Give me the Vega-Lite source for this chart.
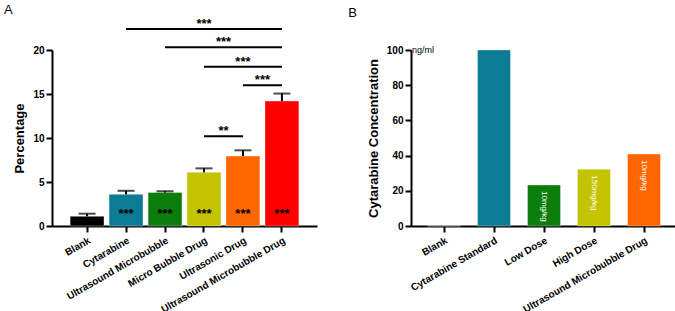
{
  "$schema": "https://vega.github.io/schema/vega-lite/v6.json",
  "padding": {"left": 3, "top": 3, "right": 0, "bottom": 0},
  "background": "white",
  "bounds": "flush",
  "spacing": 94,
  "resolve": {"scale": {"color": "independent", "y": "independent", "x": "independent"}},
  "config": {
    "font": "Liberation Sans",
    "view": {"stroke": null},
    "text": {"font": "Liberation Sans"},
    "axis": {"grid": false, "labelOverlap": false, "domainColor": "black", "domainWidth": 2, "tickColor": "black", "tickWidth": 2, "tickSize": 6, "labelFont": "Liberation Sans", "labelFontWeight": "bold", "labelFontSize": 10, "labelColor": "black", "titleFont": "Liberation Sans", "titleFontWeight": "bold", "titleFontSize": 13, "titleColor": "black"},
    "title": {"font": "Liberation Sans", "fontWeight": "normal", "fontSize": 13, "anchor": "start", "frame": "bounds", "color": "black"}
  },
  "datasets": {
    "percent": [
      {"group": "Blank", "value": 1.1, "err": 1.4, "sig": ""},
      {"group": "Cytarabine", "value": 3.6, "err": 4.0, "sig": "***"},
      {"group": "Ultrasound Microbubble", "value": 3.8, "err": 3.95, "sig": "***"},
      {"group": "Micro Bubble Drug", "value": 6.1, "err": 6.55, "sig": "***"},
      {"group": "Ultrasonic Drug", "value": 7.95, "err": 8.6, "sig": "***"},
      {"group": "Ultrasound Microbubble Drug", "value": 14.2, "err": 15.05, "sig": "***"}
    ],
    "lines": [
      {"from": "Cytarabine", "to": "Ultrasound Microbubble Drug", "y": 22.4},
      {"from": "Ultrasound Microbubble", "to": "Ultrasound Microbubble Drug", "y": 20.3},
      {"from": "Micro Bubble Drug", "to": "Ultrasound Microbubble Drug", "y": 18.1},
      {"from": "Ultrasonic Drug", "to": "Ultrasound Microbubble Drug", "y": 16.0},
      {"from": "Micro Bubble Drug", "to": "Ultrasonic Drug", "y": 10.2}
    ],
    "labelsCenter": [
      {"mid": "Micro Bubble Drug", "y": 22.4, "label": "***"},
      {"mid": "Ultrasonic Drug", "y": 18.1, "label": "***"}
    ],
    "labelsEdge": [
      {"mid": "Micro Bubble Drug", "y": 20.3, "label": "***"},
      {"mid": "Ultrasonic Drug", "y": 16.0, "label": "***"},
      {"mid": "Micro Bubble Drug", "y": 10.2, "label": "**"}
    ],
    "conc": [
      {"group": "Blank", "value": 0, "dose": ""},
      {"group": "Cytarabine Standard", "value": 100, "dose": ""},
      {"group": "Low Dose", "value": 23.3, "dose": "10mg/kg"},
      {"group": "High Dose", "value": 32.2, "dose": "150mg/kg"},
      {"group": "Ultrasound Microbubble Drug", "value": 40.9, "dose": "10mg/kg"}
    ],
    "unit": [{"label": "ng/ml", "group": "Blank", "value": 100}]
  },
  "hconcat": [
    {
      "title": {"text": "A", "dx": -10, "offset": 1},
      "width": 265,
      "height": 176,
      "encoding": {
        "x": {"field": "group", "type": "nominal", "sort": null,
          "scale": {"domain": ["Blank", "Cytarabine", "Ultrasound Microbubble", "Micro Bubble Drug", "Ultrasonic Drug", "Ultrasound Microbubble Drug"], "paddingInner": 0, "paddingOuter": 0.4},
          "axis": {"title": null, "labelAngle": -30, "labelPadding": 3}}
      },
      "layer": [
        {
          "data": {"name": "percent"},
          "mark": {"type": "bar", "width": {"band": 0.87}, "stroke": "white", "strokeOpacity": 0.35, "strokeWidth": 1},
          "encoding": {
            "y": {"field": "value", "type": "quantitative", "scale": {"domain": [0, 20], "nice": false}, "axis": {"title": "Percentage", "values": [0, 5, 10, 15, 20], "titlePadding": 6}},
            "color": {"field": "group", "type": "nominal", "legend": null,
              "scale": {"domain": ["Blank", "Cytarabine", "Ultrasound Microbubble", "Micro Bubble Drug", "Ultrasonic Drug", "Ultrasound Microbubble Drug"], "range": ["#000000", "#0c7b94", "#0a7d0a", "#c3c300", "#ff6600", "#ff0000"]}}
          }
        },
        {
          "data": {"name": "percent"},
          "mark": {"type": "rule", "color": "black", "strokeWidth": 2},
          "encoding": {"y": {"field": "value", "type": "quantitative"}, "y2": {"field": "err"}}
        },
        {
          "data": {"name": "percent"},
          "mark": {"type": "tick", "color": "black", "thickness": 2, "size": 17, "orient": "horizontal"},
          "encoding": {"y": {"field": "err", "type": "quantitative"}}
        },
        {
          "data": {"name": "percent"},
          "mark": {"type": "text", "font": "Liberation Sans", "fontSize": 13, "fontWeight": "bold", "baseline": "alphabetic", "color": "black"},
          "encoding": {"y": {"datum": 0.9, "type": "quantitative"}, "text": {"field": "sig"}}
        },
        {
          "data": {"name": "lines"},
          "mark": {"type": "rule", "color": "black", "strokeWidth": 2},
          "encoding": {
            "x": {"field": "from", "type": "nominal"},
            "x2": {"field": "to"},
            "y": {"field": "y", "type": "quantitative"}
          }
        },
        {
          "data": {"name": "labelsCenter"},
          "mark": {"type": "text", "font": "Liberation Sans", "fontSize": 13, "fontWeight": "bold", "baseline": "alphabetic", "color": "black", "dy": -1},
          "encoding": {
            "x": {"field": "mid", "type": "nominal"},
            "y": {"field": "y", "type": "quantitative"},
            "text": {"field": "label"}
          }
        },
        {
          "data": {"name": "labelsEdge"},
          "mark": {"type": "text", "font": "Liberation Sans", "fontSize": 13, "fontWeight": "bold", "baseline": "alphabetic", "color": "black", "dy": -1},
          "encoding": {
            "x": {"field": "mid", "type": "nominal", "bandPosition": 1},
            "y": {"field": "y", "type": "quantitative"},
            "text": {"field": "label"}
          }
        }
      ]
    },
    {
      "title": {"text": "B", "dx": -19, "offset": 25},
      "width": 266,
      "height": 176,
      "encoding": {
        "x": {"field": "group", "type": "nominal", "sort": null,
          "scale": {"domain": ["Blank", "Cytarabine Standard", "Low Dose", "High Dose", "Ultrasound Microbubble Drug"], "paddingInner": 0.34, "paddingOuter": 0.33},
          "axis": {"title": null, "labelAngle": -30, "labelPadding": 3}},
        "y": {"field": "value", "type": "quantitative", "scale": {"domain": [0, 100], "nice": false},
          "axis": {"title": "Cytarabine Concentration", "values": [0, 20, 40, 60, 80, 100], "tickCount": 6, "titlePadding": 6}}
      },
      "layer": [
        {
          "data": {"name": "conc"},
          "mark": {"type": "bar", "stroke": "white", "strokeOpacity": 0.35, "strokeWidth": 1},
          "encoding": {
            "color": {"field": "group", "type": "nominal", "legend": null,
              "scale": {"domain": ["Blank", "Cytarabine Standard", "Low Dose", "High Dose", "Ultrasound Microbubble Drug"], "range": ["#ffffff", "#0c7b94", "#0a7d0a", "#c3c300", "#ff6600"]}}
          }
        },
        {
          "data": {"name": "conc"},
          "mark": {"type": "text", "font": "Liberation Sans", "angle": 90, "align": "left", "baseline": "middle", "fontSize": 8, "color": "white", "dx": 6},
          "encoding": {
            "text": {"field": "dose"}
          }
        },
        {
          "data": {"name": "unit"},
          "mark": {"type": "text", "font": "Liberation Sans", "align": "left", "baseline": "middle", "fontSize": 9, "color": "black", "dx": -32},
          "encoding": {
            "text": {"field": "label"}
          }
        }
      ]
    }
  ]
}
